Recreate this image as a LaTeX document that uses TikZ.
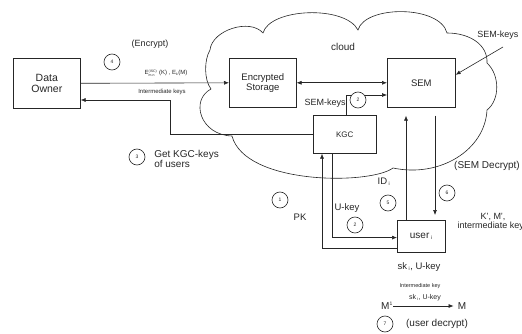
\documentclass[tikz,border=0pt]{standalone}
\usepackage{fontspec}
\setmainfont{Liberation Sans}
\usetikzlibrary{arrows.meta}

\newcommand{\fs}[1]{\fontsize{#1}{#1}\selectfont}

\begin{document}
\begin{tikzpicture}[x=1pt, y=-1pt, line width=0.6pt, color=black!85,
  >={Latex[length=5pt,width=4pt]},
  box/.style={draw, fill=white, inner sep=0pt, anchor=north west, align=center},
  num/.style={draw, circle, fill=white, minimum size=16pt, inner sep=0pt, font=\fs{5}},
  lbl/.style={inner sep=0pt, align=center, font=\fs{9}}]

\useasboundingbox (0,0) rectangle (522,334);

% cloud
\draw (211,89) .. controls (204,80) and (204,60) .. (210,50)
  .. controls (212,30) and (250,18) .. (263,33)
  .. controls (270,8) and (345,5) .. (358,30)
  .. controls (365,5) and (440,5) .. (447,33)
  .. controls (470,33) and (488,45) .. (487,63)
  .. controls (500,75) and (500,100) .. (487,110)
  .. controls (485,150) and (440,178) .. (393,168)
  .. controls (370,185) and (245,185) .. (232,136)
  .. controls (200,135) and (190,100) .. (211,89) -- cycle;
\node[lbl, font=\fs{10}] (cloud) at (343,47) {cloud};

% boxes
\node[box, minimum width=67pt, minimum height=50pt, font=\fs{10.5}] (owner) at (13,58) {Data\\Owner};
\node[box, minimum width=67pt, minimum height=49pt, font=\fs{9.5}] (storage) at (229,58) {Encrypted\\Storage};
\node[box, minimum width=68pt, minimum height=49pt, font=\fs{9.5}] (sem) at (387,58) {SEM};
\node[box, minimum width=63pt, minimum height=38pt, font=\fs{8}] (kgc) at (313,115) {KGC};
\node[box, minimum width=48pt, minimum height=32pt, font=\fs{10}] (user) at (397,220) {user\,\textsubscript{\fs{5}i}};

\coordinate (bend) at (170,100);
\coordinate (k2) at (346,95);
\coordinate (up) at (406,0);
\coordinate (dn) at (435,0);
\coordinate (semkeys) at (503,47);

% connectors
\begin{scope}[->]
\draw (owner.east) -- (storage.west); %owner-storage
\draw (kgc.west) -| (bend) -- (bend -| owner.east); %kgc-owner
\draw[<->] (storage.east) -- (sem.west); %storage-sem
\draw (k2 |- kgc.north) -- (k2) -- (k2 -| sem.west); %kgc-sem
\draw (semkeys) -- ([yshift=8pt]sem.east); %keys-sem
\draw ([yshift=4pt]user.south west) -| ([xshift=9pt]kgc.south west); %user-kgc
\draw ([xshift=19pt]kgc.south west) |- ([yshift=15pt]user.south west); %kgc-user
\draw[shorten >=8pt] (up |- user.north) -- (up |- sem.south); %user-sem
\draw[shorten <=8pt, shorten >=5pt] (dn |- sem.south) -- (dn |- user.north); %sem-user
\end{scope}

% steps
\node[num] (n1) at (280,200) {1};
\node[num] (n2a) at (358,100) {2};
\node[num] (n2b) at (355,225) {2};
\node[num] (n3) at (137,157) {3};
\node[num] (n4) at (112,62) {4};
\node[num] (n5) at (388,203) {5};
\node[num] (n6) at (447,193) {6};
\node[num] (n7) at (385,324) {7};

% labels
\node[lbl] (encrypt) at (150,44) {(Encrypt)};
\node[lbl, font=\fs{6}] (ekm) at (166,73) {E$^{\mbox{\fs{3.5}(ISC)}}_{\mbox{\fs{3.5}m.n}}$ (K) , E$_{\mbox{\fs{3.5}k}}$(M)};
\node[lbl, font=\fs{6}] (ikeys) at (162,92) {Intermediate keys};
\node[lbl, anchor=west, align=left, font=\fs{10}] (getkeys) at (154,159) {Get KGC-keys\\of users};
\node[lbl, anchor=east] (semk1) at (346,103) {SEM-keys};
\node[lbl, anchor=west] (semk2) at (477,35) {SEM-keys};
\node[lbl, font=\fs{10}] (semdec) at (487,166) {(SEM Decrypt)};
\node[lbl, font=\fs{9.5}] (pk) at (300,217) {PK};
\node[lbl, font=\fs{9.5}] (ukey) at (347,208) {U-key};
\node[lbl, font=\fs{9.5}] (idi) at (384,182) {ID\,\textsubscript{\fs{5}i}};
\node[lbl, font=\fs{9}] (kmi) at (493,222) {K', M',\\intermediate keys};
\node[lbl, font=\fs{9.5}] (sku) at (419,267) {sk\,\textsubscript{\fs{5}i}, U-key};

\node[lbl, font=\fs{10}] (m1) at (387,306) {M\textsuperscript{\fs{5}1}};
\node[lbl, font=\fs{10}] (m) at (462,306) {M};
\draw[->, shorten >=4pt] (m1) -- (m);
\node[lbl, font=\fs{5.5}] (ikey) at (420,286) {Intermediate key};
\node[lbl, font=\fs{7}] (sku2) at (425,298) {sk\,\textsubscript{\fs{4}i}, U-key};
\node[lbl, font=\fs{10}] (udec) at (437,324) {(user decrypt)};

\end{tikzpicture}
\end{document}
